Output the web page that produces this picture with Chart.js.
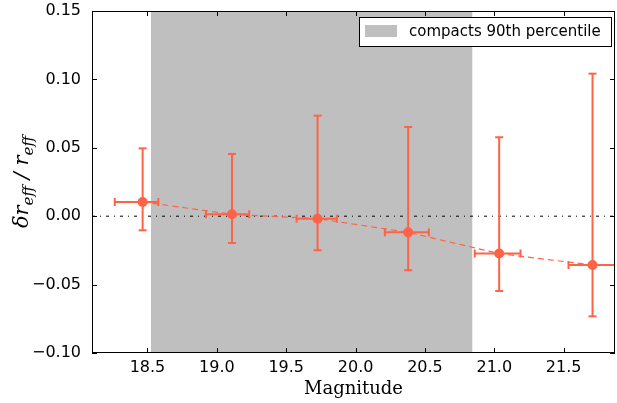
<!DOCTYPE html>
<html>
<head>
<meta charset="utf-8">
<script src="https://cdn.jsdelivr.net/npm/chart.js@4.4.0/dist/chart.umd.min.js"></script>
<style>
html, body { margin: 0; padding: 0; background: #fff; }
</style>
</head>
<body>
<canvas id="chart" width="617" height="403"></canvas>
<script>
// values
const mags    = [18.465, 19.109, 19.726, 20.379, 21.035, 21.708];
const magLo   = [18.264, 18.921, 19.575, 20.211, 20.859, 21.535];
const magHi   = [18.578, 19.233, 19.865, 20.528, 21.189, 21.870];
const dr      = [0.0104, 0.0014, -0.0018, -0.0118, -0.0273, -0.0357];
const drLo    = [-0.0103, -0.0196, -0.0249, -0.0395, -0.0547, -0.0732];
const drHi    = [0.0496, 0.0455, 0.0735, 0.0652, 0.0577, 0.1042];
const spanMag = [18.525, 20.843];
const xTicks  = [18.5, 19.0, 19.5, 20.0, 20.5, 21.0, 21.5];
const yTicks  = [-0.10, -0.05, 0.00, 0.05, 0.10, 0.15];
const xRange  = [18.10, 21.87];
const yRange  = [-0.10, 0.15];
const legendLabel = 'compacts 90th percentile';

const RED = '#ff6347';
const SPAN = '#bfbfbf';

// ============================
// Datasets
// ============================
let datasets = [];

// shaded magnitude range
datasets.push({
    label: legendLabel,
    data: [{x: spanMag[0], y: yRange[1]}, {x: spanMag[1], y: yRange[1]}],
    showLine: true,
    fill: 'start',
    backgroundColor: SPAN,
    borderWidth: 0,
    pointRadius: 0,
    order: 10,
});

// zero line
datasets.push({
    label: 'zero',
    data: [{x: xRange[0], y: 0}, {x: xRange[1], y: 0}],
    showLine: true,
    borderColor: '#000',
    borderWidth: 1,
    borderDash: [3, 5, 1, 5],
    pointRadius: 0,
    order: 5,
});

// error bars
for (let i = 0; i < mags.length; i++) {
    datasets.push({
        label: 'yerr' + i,
        data: [{x: mags[i], y: drLo[i]}, {x: mags[i], y: drHi[i]}],
        showLine: true,
        borderColor: RED,
        borderWidth: 2,
        pointStyle: 'line',
        pointRadius: 4,
        pointBorderWidth: 2,
        pointBorderColor: RED,
        order: 2,
    });
    datasets.push({
        label: 'xerr' + i,
        data: [{x: magLo[i], y: dr[i]}, {x: magHi[i], y: dr[i]}],
        showLine: true,
        borderColor: RED,
        borderWidth: 2,
        pointStyle: 'line',
        pointRotation: 90,
        pointRadius: 4,
        pointBorderWidth: 2,
        pointBorderColor: RED,
        order: 2,
    });
}

// points joined by dashed line
datasets.push({
    label: 'points',
    data: mags.map((m, i) => ({x: m, y: dr[i]})),
    showLine: true,
    borderColor: RED,
    borderWidth: 1.2,
    borderDash: [6, 4],
    pointRadius: 5,
    pointBackgroundColor: RED,
    pointBorderWidth: 0,
    order: 1,
});

// ============================
// Frame, inside ticks, legend, y title
// ============================
const decorations = {
    id: 'decorations',
    afterDraw(chart) {
        const c = chart.ctx;
        const a = chart.chartArea;
        const xs = chart.scales.x, ys = chart.scales.y;
        c.save();
        c.strokeStyle = '#000';
        c.lineWidth = 1;
        c.strokeRect(Math.round(a.left) + 0.5, Math.round(a.top) + 0.5,
                     Math.round(a.right - a.left) - 1, Math.round(a.bottom - a.top) - 1);
        const tl = 5;
        c.beginPath();
        xTicks.forEach(v => {
            const px = Math.round(xs.getPixelForValue(v)) + 0.5;
            c.moveTo(px, a.bottom); c.lineTo(px, a.bottom - tl);
            c.moveTo(px, a.top); c.lineTo(px, a.top + tl);
        });
        yTicks.forEach(v => {
            const py = Math.round(ys.getPixelForValue(v)) + 0.5;
            c.moveTo(a.left, py); c.lineTo(a.left + tl, py);
            c.moveTo(a.right, py); c.lineTo(a.right - tl, py);
        });
        c.stroke();

        // legend
        const lx = a.right - 256, ly = a.top + 6, lw = 252, lh = 29;
        c.fillStyle = '#fff';
        c.fillRect(lx, ly, lw, lh);
        c.strokeRect(lx + 0.5, ly + 0.5, lw, lh);
        c.fillStyle = SPAN;
        c.fillRect(lx + 6, ly + 8, 32, 12);
        c.fillStyle = '#000';
        c.font = '15px "DejaVu Sans"';
        c.textBaseline = 'middle';
        c.fillText(legendLabel, lx + 50, ly + lh / 2 + 1);

        // y title: delta r_eff / r_eff
        const parts = [
            {t: '\u03b4r', f: 'italic 21px "DejaVu Serif"', dy: 0},
            {t: 'eff', f: 'italic 15px "DejaVu Serif"', dy: 5},
            {t: ' / ', f: 'italic 21px "DejaVu Serif"', dy: 0},
            {t: 'r', f: 'italic 21px "DejaVu Serif"', dy: 0},
            {t: 'eff', f: 'italic 15px "DejaVu Serif"', dy: 5},
        ];
        let total = 0;
        parts.forEach(p => { c.font = p.f; p.w = c.measureText(p.t).width; total += p.w; });
        c.translate(28, (a.top + a.bottom) / 2);
        c.rotate(-Math.PI / 2);
        c.textBaseline = 'alphabetic';
        let x0 = -total / 2;
        parts.forEach(p => {
            c.font = p.f;
            c.fillText(p.t, x0, p.dy);
            x0 += p.w;
        });
        c.restore();
    }
};

// ============================
// Chart
// ============================
const ctx = document.getElementById('chart').getContext('2d');
let chart = new Chart(ctx, {
    type: 'scatter',
    data: { datasets: datasets },
    options: {
        responsive: false,
        animation: false,
        layout: { autoPadding: false, padding: { top: 11, right: 2, bottom: 3, left: 0 } },
        plugins: {
            legend: { display: false },
            tooltip: { enabled: false },
        },
        scales: {
            x: {
                type: 'linear',
                min: xRange[0],
                max: xRange[1],
                afterBuildTicks: s => { s.ticks = xTicks.map(v => ({value: v})); },
                afterFit: s => { s.height = 47; },
                grid: { display: false },
                border: { display: false },
                ticks: {
                    color: '#000',
                    font: { family: 'DejaVu Sans', size: 16 },
                    padding: -3,
                    maxRotation: 0,
                    callback: v => v.toFixed(1),
                },
                title: {
                    display: true,
                    text: 'Magnitude',
                    color: '#000',
                    font: { family: 'DejaVu Serif', size: 18 },
                    padding: 0,
                },
            },
            y: {
                type: 'linear',
                min: yRange[0],
                max: yRange[1],
                afterBuildTicks: s => { s.ticks = yTicks.map(v => ({value: v})); },
                afterFit: s => { s.width = 92; },
                grid: { display: false },
                border: { display: false },
                ticks: {
                    color: '#000',
                    font: { family: 'DejaVu Sans', size: 16, lineHeight: 1 },
                    padding: 3,
                    callback: v => (v < 0 ? '\u2212' : '') + Math.abs(v).toFixed(2),
                },
            },
        },
    },
    plugins: [decorations],
});
</script>
</body>
</html>
